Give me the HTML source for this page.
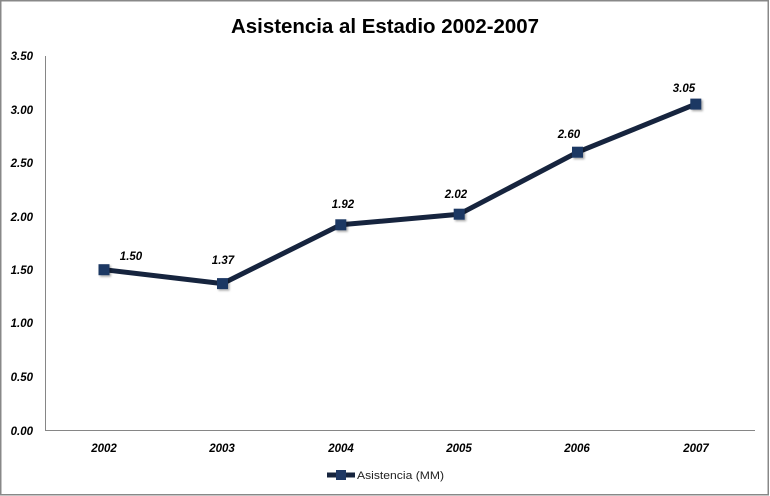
<!DOCTYPE html>
<html><head><meta charset="utf-8"><style>
html,body{margin:0;padding:0;background:#fff;}
svg{display:block;}
text{font-family:"Liberation Sans",sans-serif;}
</style></head><body>
<svg width="770" height="496" viewBox="0 0 770 496" xmlns="http://www.w3.org/2000/svg">
<defs>
<filter id="sh" x="-50%" y="-50%" width="200%" height="200%">
<feDropShadow dx="1.5" dy="1.5" stdDeviation="1" flood-color="#000" flood-opacity="0.35"/>
</filter>
</defs>
<rect x="0.75" y="0.75" width="767.5" height="494" fill="#fff" stroke="#888" stroke-width="1.5"/>
<text x="385" y="33" text-anchor="middle" font-size="20" font-weight="bold" fill="#000" textLength="308" lengthAdjust="spacingAndGlyphs">Asistencia al Estadio 2002-2007</text>
<!-- axes -->
<line x1="45.5" y1="56" x2="45.5" y2="430.5" stroke="#868686" stroke-width="1"/>
<line x1="45" y1="430.5" x2="755" y2="430.5" stroke="#868686" stroke-width="1"/>
<!-- y labels -->
<g font-size="11.5" font-weight="bold" font-style="italic" fill="#000" text-anchor="end">
<text x="33" y="60">3.50</text>
<text x="33" y="114">3.00</text>
<text x="33" y="167">2.50</text>
<text x="33" y="221">2.00</text>
<text x="33" y="274">1.50</text>
<text x="33" y="327">1.00</text>
<text x="33" y="381">0.50</text>
<text x="33" y="435">0.00</text>
</g>
<!-- x labels -->
<g font-size="11.5" font-weight="bold" font-style="italic" fill="#000" text-anchor="middle">
<text x="104" y="452">2002</text>
<text x="222" y="452">2003</text>
<text x="341" y="452">2004</text>
<text x="459" y="452">2005</text>
<text x="577" y="452">2006</text>
<text x="696" y="452">2007</text>
</g>
<!-- series -->
<polyline points="104,269.7 222.5,283.6 340.8,224.8 459.2,214.2 577.5,152.2 695.8,104.1" fill="none" stroke="#16243e" stroke-width="5" stroke-linejoin="round"/>
<g fill="#1f3864" filter="url(#sh)">
<rect x="98.5" y="264.2" width="11" height="11"/>
<rect x="217" y="278.1" width="11" height="11"/>
<rect x="335.3" y="219.3" width="11" height="11"/>
<rect x="453.7" y="208.7" width="11" height="11"/>
<rect x="572" y="146.7" width="11" height="11"/>
<rect x="690.3" y="98.6" width="11" height="11"/>
</g>
<!-- data labels -->
<g font-size="11.5" font-weight="bold" font-style="italic" fill="#000" text-anchor="middle">
<text x="131" y="260">1.50</text>
<text x="223" y="264">1.37</text>
<text x="343" y="208">1.92</text>
<text x="456" y="198">2.02</text>
<text x="569" y="138">2.60</text>
<text x="684" y="92">3.05</text>
</g>
<!-- legend -->
<line x1="327" y1="475" x2="355" y2="475" stroke="#16243e" stroke-width="5"/>
<rect x="336" y="470" width="10" height="10" fill="#1f3864"/>
<text x="357" y="479" font-size="11" fill="#222" textLength="87" lengthAdjust="spacingAndGlyphs">Asistencia (MM)</text>
</svg>
</body></html>
